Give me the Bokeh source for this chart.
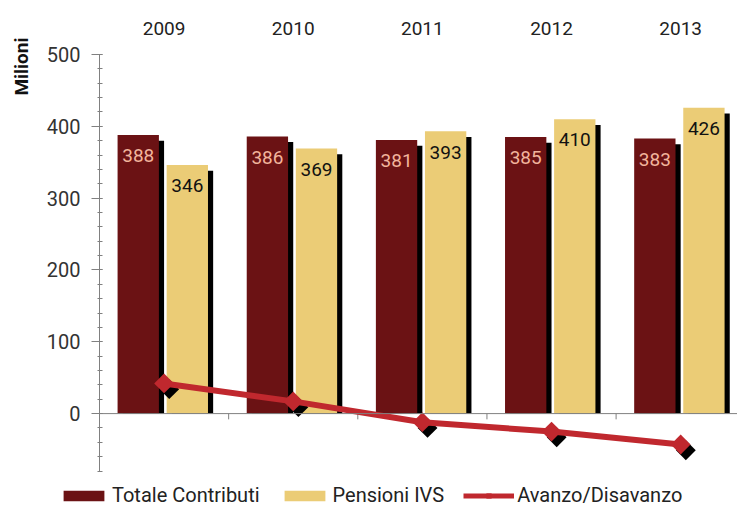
import math
from bokeh.plotting import figure
from bokeh.models import (Range1d, FixedTicker, SingleIntervalTicker, Span, Legend,
                          LegendItem, Title, CustomJSTickFormatter)
from bokeh.core.properties import value
from bokeh.embed import file_html
from bokeh.resources import INLINE

# ---- data ----
years = ["2009", "2010", "2011", "2012", "2013"]
contributi = [388, 386, 381, 385, 383]
pensioni = [346, 369, 393, 410, 426]
saldo = [42, 17, -12, -25, -43]
series_names = ["Totale Contributi", "Pensioni IVS", "Avanzo/Disavanzo"]

FONT = "Roboto"
DARK = "#6b1214"
YELLOW = "#ebcc76"
RED = "#c0282e"
AX = "#808080"

n = len(years)
centers = [i + 0.5 for i in range(n)]
x_dark = [c - 0.2 for c in centers]
x_yel = [c + 0.18 for c in centers]
bw = 0.32
sh_dx = 0.04   # shadow shift (category units)
sh_dy = 8      # shadow drop (value units)

p = figure(width=737, height=472, output_backend="svg", toolbar_location=None,
           x_range=Range1d(0, 4.94), y_range=Range1d(-82, 500),
           x_axis_location="above",
           min_border_left=99, min_border_top=54, min_border_bottom=0, min_border_right=0)
p.outline_line_color = None
p.grid.visible = False

# top axis with years
xa = p.xaxis[0]
xa.ticker = FixedTicker(ticks=centers)
xa.formatter = CustomJSTickFormatter(args=dict(labels=years),
                                     code="return labels[Math.floor(tick)];")
xa.axis_line_color = None
xa.major_tick_line_color = None
xa.minor_tick_line_color = None
xa.major_label_standoff = 14
xa.major_label_text_font = FONT
xa.major_label_text_font_size = "19px"
xa.major_label_text_color = "#222222"

# y axis
ya = p.yaxis[0]
ya.ticker = SingleIntervalTicker(interval=100, num_minor_ticks=5)
ya.axis_line_color = AX
ya.major_tick_line_color = AX
ya.minor_tick_line_color = AX
ya.major_tick_out = 8
ya.major_tick_in = 3
ya.minor_tick_out = 2
ya.minor_tick_in = 3
ya.major_label_standoff = 11
ya.major_label_text_font = FONT
ya.major_label_text_font_size = "20px"
ya.major_label_text_color = "#333333"

p.add_layout(Title(text="Milioni", align="right", vertical_align="top", offset=-17,
                   text_font=FONT, text_font_style="bold", text_font_size="19px",
                   text_color="#111111", standoff=17), "left")

# zero line + category boundary ticks
p.add_layout(Span(location=0, dimension="width", line_color=AX, line_width=1))
bounds = list(range(1, n))
p.segment(x0=bounds, y0=[0] * len(bounds), x1=bounds, y1=[-8] * len(bounds),
          line_color=AX, line_width=1)

# bars with shadows
p.vbar(x=[x + sh_dx for x in x_dark], top=[v - sh_dy for v in contributi], bottom=0,
       width=bw, fill_color="black", line_color=None)
p.vbar(x=x_dark, top=contributi, bottom=0, width=bw, fill_color=DARK, line_color=None)
p.vbar(x=[x + sh_dx for x in x_yel], top=[v - sh_dy for v in pensioni], bottom=0,
       width=bw, fill_color="black", line_color=None)
p.vbar(x=x_yel, top=pensioni, bottom=0, width=bw, fill_color=YELLOW, line_color=None)

# bar value labels
p.text(x=x_dark, y=[v - 29 for v in contributi], text=[str(v) for v in contributi],
       text_align="center", text_baseline="middle", text_font=value(FONT),
       text_font_size="19px", text_color="#f2b49c")
p.text(x=x_yel, y=[v - 29 for v in pensioni], text=[str(v) for v in pensioni],
       text_align="center", text_baseline="middle", text_font=value(FONT),
       text_font_size="19px", text_color="#111111")

# line with diamond markers + shadows
p.scatter(x=[c + sh_dx for c in centers], y=[s - sh_dy for s in saldo], marker="square",
          angle=math.pi / 4, size=14, fill_color="black", line_color=None)
p.line(centers, saldo, line_width=6, line_color=RED)
p.scatter(x=centers, y=saldo, marker="square", angle=math.pi / 4, size=14,
          fill_color=RED, line_color=None)

# ---- legend strip below (same series, drawn off-range so only the legend shows) ----
p2 = figure(width=737, height=35, output_backend="svg", toolbar_location=None,
            x_range=Range1d(0, 4.94), y_range=Range1d(1000, 1001),
            x_axis_type=None, y_axis_type=None, min_border=0)
p2.grid.visible = False
p2.outline_line_color = None
l_dark = p2.vbar(x=x_dark, top=contributi, bottom=0, width=bw, fill_color=DARK, line_color=None)
l_yel = p2.vbar(x=x_yel, top=pensioni, bottom=0, width=bw, fill_color=YELLOW, line_color=None)
l_line = p2.line(centers, saldo, line_width=5, line_color=RED)
l_mark = p2.scatter(x=centers, y=saldo, marker="square", angle=math.pi / 4, size=12,
                    fill_color=RED, line_color=None)

legend = Legend(items=[LegendItem(label=series_names[0], renderers=[l_dark]),
                       LegendItem(label=series_names[1], renderers=[l_yel]),
                       LegendItem(label=series_names[2], renderers=[l_line, l_mark])],
                orientation="horizontal", location=(58, 0),
                glyph_width=51, glyph_height=13, label_standoff=3, spacing=19,
                padding=0, margin=0, border_line_color=None, background_fill_alpha=0,
                label_text_font=FONT, label_text_font_size="20px",
                label_text_color="#222222")
p2.add_layout(legend, "center")

open("out.html", "w").write(file_html([p, p2], INLINE))
